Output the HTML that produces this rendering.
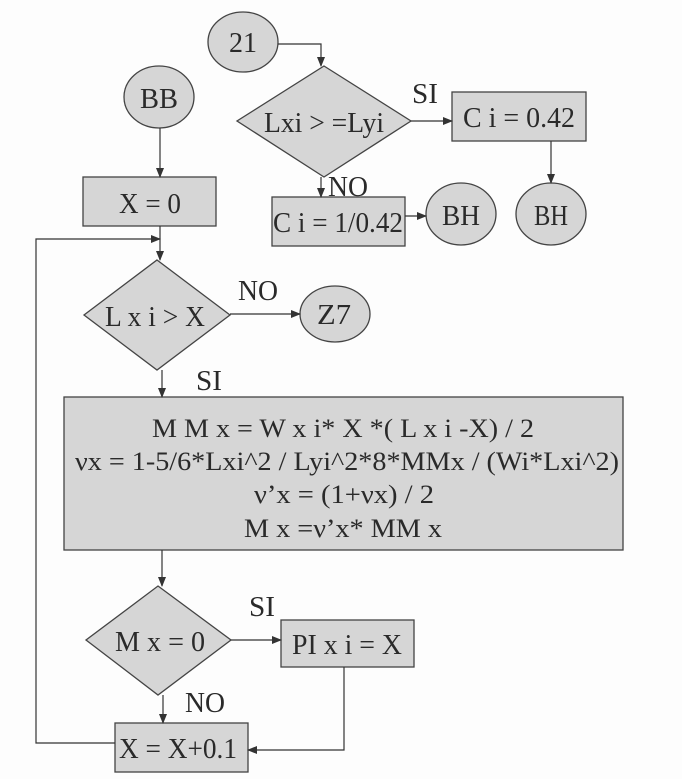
<!DOCTYPE html>
<html><head><meta charset="utf-8"><style>
html,body{margin:0;padding:0;background:#fdfdfd;}
svg{display:block;}
text{font-family:"Liberation Serif",serif;fill:#2a2a2a;}
</style></head><body>
<svg width="682" height="779" viewBox="0 0 682 779" xmlns="http://www.w3.org/2000/svg">
<defs><marker id="a" markerWidth="10" markerHeight="8" refX="9" refY="4" orient="auto" markerUnits="userSpaceOnUse"><path d="M0,0 L10,4 L0,8 Z" fill="#333"/></marker></defs>
<g fill="#d6d6d6" stroke="#444" stroke-width="1.3">
<ellipse cx="243" cy="42" rx="35" ry="30"/>
<polygon points="324,66 411,121 324,177 237,121"/>
<rect x="452" y="92" width="134" height="49"/>
<ellipse cx="551" cy="214" rx="35" ry="31"/>
<rect x="272" y="197" width="133" height="49"/>
<ellipse cx="461" cy="214" rx="35" ry="31"/>
<ellipse cx="159" cy="97" rx="35" ry="31"/>
<rect x="83" y="177" width="133" height="49"/>
<polygon points="157,260 230,315 157,370 84,315"/>
<ellipse cx="335" cy="314" rx="35" ry="28"/>
<rect x="64" y="397" width="559" height="153"/>
<polygon points="158,586 231,640 158,695 86,640"/>
<rect x="281" y="620" width="133" height="47"/>
<rect x="115" y="723" width="133" height="49"/>
</g>
<g fill="none" stroke="#333" stroke-width="1.2">
<polyline points="278,44 321,44 321,66" marker-end="url(#a)"/>
<line x1="411" y1="121" x2="452" y2="121" marker-end="url(#a)"/>
<line x1="551" y1="141" x2="551" y2="183" marker-end="url(#a)"/>
<line x1="321" y1="177" x2="321" y2="197" marker-end="url(#a)"/>
<line x1="405" y1="216" x2="426" y2="216" marker-end="url(#a)"/>
<line x1="160" y1="128" x2="160" y2="177" marker-end="url(#a)"/>
<line x1="160" y1="226" x2="160" y2="260" marker-end="url(#a)"/>
<polyline points="115,743 36,743 36,239 160,239" marker-end="url(#a)"/>
<line x1="230" y1="314" x2="300" y2="314" marker-end="url(#a)"/>
<line x1="162" y1="370" x2="162" y2="397" marker-end="url(#a)"/>
<line x1="162" y1="550" x2="162" y2="586" marker-end="url(#a)"/>
<line x1="231" y1="640" x2="281" y2="640" marker-end="url(#a)"/>
<line x1="163" y1="695" x2="163" y2="723" marker-end="url(#a)"/>
<polyline points="344,667 344,750 248,750" marker-end="url(#a)"/>
</g>
<g font-size="28" text-anchor="middle">
<text x="243" y="52" textLength="28" lengthAdjust="spacingAndGlyphs">21</text>
<text x="324" y="132" textLength="120" lengthAdjust="spacingAndGlyphs">Lxi &gt; =Lyi</text>
<text x="425" y="103" textLength="26" lengthAdjust="spacingAndGlyphs">SI</text>
<text x="519" y="127" textLength="112" lengthAdjust="spacingAndGlyphs">C i = 0.42</text>
<text x="551" y="225" textLength="34" lengthAdjust="spacingAndGlyphs">BH</text>
<text x="348" y="196" textLength="40" lengthAdjust="spacingAndGlyphs">NO</text>
<text x="338" y="232" textLength="130" lengthAdjust="spacingAndGlyphs">C i = 1/0.42</text>
<text x="461" y="225" textLength="38" lengthAdjust="spacingAndGlyphs">BH</text>
<text x="159" y="108" textLength="38" lengthAdjust="spacingAndGlyphs">BB</text>
<text x="150" y="213" textLength="62" lengthAdjust="spacingAndGlyphs">X = 0</text>
<text x="155" y="326" textLength="100" lengthAdjust="spacingAndGlyphs">L x i &gt; X</text>
<text x="258" y="300" textLength="40" lengthAdjust="spacingAndGlyphs">NO</text>
<text x="334" y="324" textLength="34" lengthAdjust="spacingAndGlyphs">Z7</text>
<text x="209" y="390" textLength="26" lengthAdjust="spacingAndGlyphs">SI</text>
<g font-size="26">
<text x="343" y="437" textLength="382" lengthAdjust="spacingAndGlyphs">M M x = W x i* X *( L x i -X) / 2</text>
<text x="347" y="470" textLength="544" lengthAdjust="spacingAndGlyphs">νx = 1-5/6*Lxi^2 / Lyi^2*8*MMx / (Wi*Lxi^2)</text>
<text x="344" y="503" textLength="180" lengthAdjust="spacingAndGlyphs">ν’x = (1+νx) / 2</text>
<text x="343" y="537" textLength="198" lengthAdjust="spacingAndGlyphs">M x =ν’x* MM x</text>
</g>
<text x="160" y="651" textLength="90" lengthAdjust="spacingAndGlyphs">M x = 0</text>
<text x="262" y="616" textLength="26" lengthAdjust="spacingAndGlyphs">SI</text>
<text x="347" y="654" textLength="110" lengthAdjust="spacingAndGlyphs">PI x i = X</text>
<text x="205" y="712" textLength="40" lengthAdjust="spacingAndGlyphs">NO</text>
<text x="178" y="758" textLength="118" lengthAdjust="spacingAndGlyphs">X = X+0.1</text>
</g>
</svg>
</body></html>
